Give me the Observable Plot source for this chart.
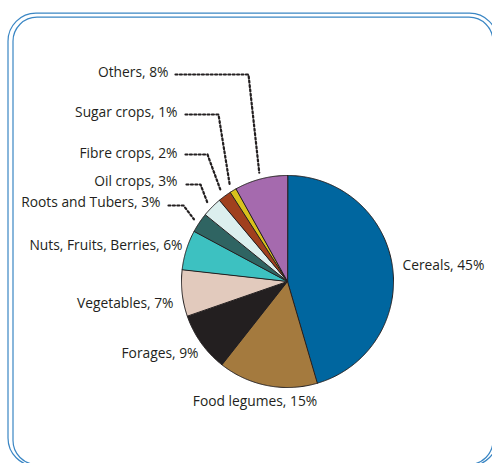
<!DOCTYPE html>
<html>
<head>
<meta charset="utf-8">
<script src="https://cdn.jsdelivr.net/npm/d3@7"></script>
<script src="https://cdn.jsdelivr.net/npm/@observablehq/plot@0.6"></script>
<style>
  html, body { margin: 0; padding: 0; background: #fff; }
  #chart { width: 492px; height: 463px; }
</style>
</head>
<body>
<div id="chart"></div>
<script>
// ---- data ----
const categories = ["Cereals", "Food legumes", "Forages", "Vegetables", "Nuts, Fruits, Berries",
  "Roots and Tubers", "Oil crops", "Fibre crops", "Sugar crops", "Others"];
const shares = [45, 15, 9, 7, 6, 3, 3, 2, 1, 8];
const colors = ["#00669f", "#a47a3e", "#231f20", "#e2cabd", "#3dc1c1",
  "#2f6462", "#dcefee", "#a0401e", "#d8c21c", "#a56aae"];

// ---- layout (pixels) ----
const W = 492, H = 463, CX = 287, CY = 281, R = 106;
const toX = px => (px - CX) / R;
const toY = py => (CY - py) / R;
const labelLayout = [
  {name: "Cereals", px: 402, py: 265, anchor: "start"},
  {name: "Food legumes", px: 254.5, py: 401, anchor: "middle"},
  {name: "Forages", px: 198, py: 353, anchor: "end"},
  {name: "Vegetables", px: 173, py: 303, anchor: "end"},
  {name: "Nuts, Fruits, Berries", px: 182, py: 245, anchor: "end"},
  {name: "Roots and Tubers", px: 160, py: 202, anchor: "end"},
  {name: "Oil crops", px: 177, py: 181, anchor: "end"},
  {name: "Fibre crops", px: 177, py: 153, anchor: "end"},
  {name: "Sugar crops", px: 177, py: 112, anchor: "end"},
  {name: "Others", px: 168, py: 72.5, anchor: "end"}
];
const leaderLayout = [
  {name: "Others", x0: 175, x1: 248, py: 74},
  {name: "Sugar crops", x0: 185, x1: 218, py: 114},
  {name: "Fibre crops", x0: 185, x1: 207, py: 154},
  {name: "Oil crops", x0: 186, x1: 200, py: 184},
  {name: "Roots and Tubers", x0: 168, x1: 183, py: 205}
];

// ---- pie geometry via d3.pie (unit circle, data space) ----
const arcs = d3.pie().sort(null).value(d => d)(shares);
const slicePts = [];
arcs.forEach((a, i) => {
  const name = categories[i];
  slicePts.push({name, x: 0, y: 0});
  const n = Math.max(2, Math.ceil((a.endAngle - a.startAngle) / 0.01));
  for (let k = 0; k <= n; k++) {
    const t = a.startAngle + (a.endAngle - a.startAngle) * k / n;
    slicePts.push({name, x: Math.sin(t), y: Math.cos(t)});
  }
});

const leaderPts = [];
leaderLayout.forEach(l => {
  const i = categories.indexOf(l.name);
  const a = arcs[i];
  const mid = (a.startAngle + a.endAngle) / 2;
  leaderPts.push({name: l.name, x: toX(l.x0), y: toY(l.py)});
  leaderPts.push({name: l.name, x: toX(l.x1), y: toY(l.py)});
  leaderPts.push({name: l.name, x: 1.06 * Math.sin(mid), y: 1.06 * Math.cos(mid)});
});

const labels = labelLayout.map(l => {
  const i = categories.indexOf(l.name);
  return {x: toX(l.px), y: toY(l.py), anchor: l.anchor, text: `${l.name}, ${shares[i]}%`};
});

const font = {fontFamily: "Open Sans", fontSize: 13.8, fill: "#231f20"};

const plot = Plot.plot({
  width: W, height: H, margin: 0,
  style: {background: "#fff", fontFamily: "Open Sans"},
  x: {domain: [toX(0), toX(W)], range: [0, W], axis: null},
  y: {domain: [toY(H), toY(0)], range: [H, 0], axis: null},
  color: {domain: categories, range: colors},
  marks: [
    Plot.frame({stroke: "#3a86c4", strokeWidth: 1.2, rx: 28, insetLeft: 7.5, insetTop: 12.7, insetRight: -5, insetBottom: -2.5}),
    Plot.frame({stroke: "#3a86c4", strokeWidth: 1.2, rx: 24, insetLeft: 12.5, insetTop: 16.7, insetRight: -0.5, insetBottom: -1}),
    Plot.line(slicePts, {x: "x", y: "y", z: "name", fill: "name", stroke: "#231f20", strokeWidth: 1, curve: "linear-closed"}),
    Plot.line(leaderPts, {x: "x", y: "y", z: "name", stroke: "#231f20", strokeWidth: 2.2, strokeDasharray: "2 2.4"}),
    Plot.text(labels.filter(d => d.anchor === "end"), {x: "x", y: "y", text: "text", textAnchor: "end", ...font}),
    Plot.text(labels.filter(d => d.anchor === "start"), {x: "x", y: "y", text: "text", textAnchor: "start", ...font}),
    Plot.text(labels.filter(d => d.anchor === "middle"), {x: "x", y: "y", text: "text", textAnchor: "middle", ...font})
  ]
});
document.getElementById("chart").appendChild(plot);
</script>
</body>
</html>
